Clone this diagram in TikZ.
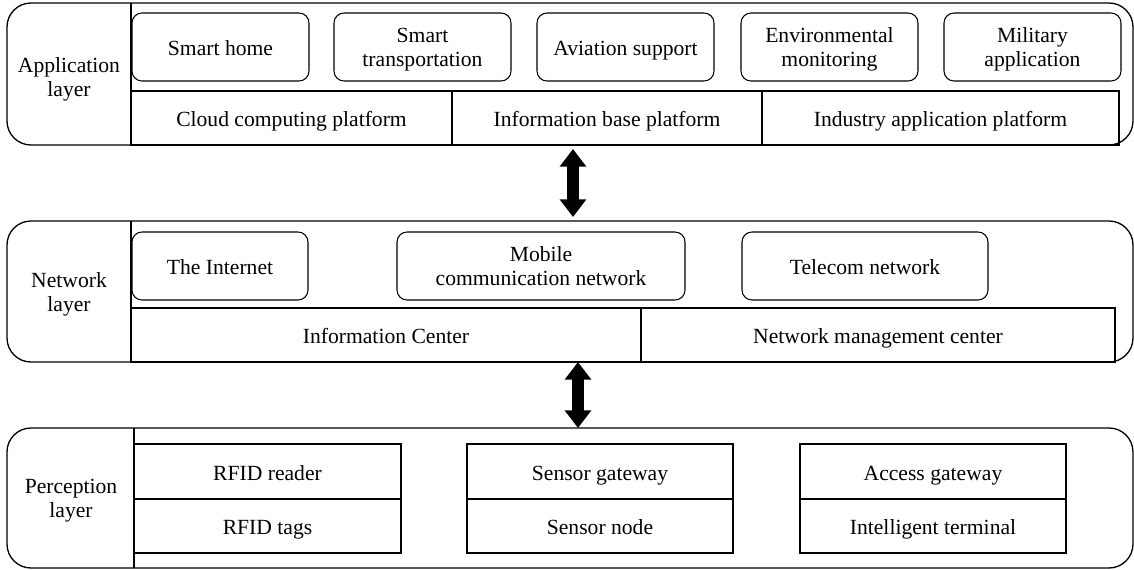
\documentclass[tikz,border=0pt]{standalone}
\usepackage{fontspec}
\setmainfont{Liberation Serif}
\usetikzlibrary{fit,arrows.meta}
\newlength\pxu
\setlength\pxu{0.02cm}
\tikzset{
  layerbox/.style={draw, line width=0.75pt, rounded corners=24\pxu, inner sep=0pt},
  itembox/.style={draw, line width=0.6pt, rounded corners=10\pxu, inner sep=0pt},
  cellbox/.style={draw, line width=0.6pt, inner sep=0pt},
  lbl/.style={align=center, inner sep=0pt, font=\fontsize{12.3}{14}\selectfont,
    execute at begin node=\strut, execute at end node=\strut, yshift=-2.2pt},
  divline/.style={line width=0.6pt},
  bigarrow/.style={line width=6.5pt, {Triangle[width=14.5pt,length=10pt]}-{Triangle[width=14.5pt,length=10pt]}}
}
\begin{document}
\begin{tikzpicture}[x=0.02cm, y=-0.02cm]
\useasboundingbox (0,0) rectangle (1134,569);

% ---------------- Application layer ----------------
\node[layerbox, fit={(7,3) (1133,145)}] (app) {};
\draw[divline] (131,3) -- (131,145);
\node[lbl] (applbl) at (69,77) {Application\\layer};
\node[itembox, fit={(132,13) (309,81)}] (smarthome) {};
\node[lbl] at (smarthome.center) {Smart home};
\node[itembox, fit={(334,13) (511,81)}] (smarttrans) {};
\node[lbl] at (smarttrans.center) {Smart\\transportation};
\node[itembox, fit={(537,13) (714,81)}] (aviation) {};
\node[lbl] at (aviation.center) {Aviation support};
\node[itembox, fit={(741,13) (918,81)}] (environ) {};
\node[lbl] at (environ.center) {Environmental\\monitoring};
\node[itembox, fit={(944,13) (1121,81)}] (military) {};
\node[lbl] at (military.center) {Military\\application};
\node[cellbox, fit={(131,91) (452,145)}] (cloud) {};
\node[lbl] at (cloud.center) {Cloud computing platform};
\node[cellbox, fit={(452,91) (762,145)}] (infobase) {};
\node[lbl] at (infobase.center) {Information base platform};
\node[cellbox, fit={(762,91) (1119,145)}] (industry) {};
\node[lbl] at (industry.center) {Industry application platform};

% ---------------- Network layer ----------------
\node[layerbox, fit={(7,221) (1133,362)}] (net) {};
\draw[divline] (131,221) -- (131,362);
\node[lbl] (netlbl) at (69,292) {Network\\layer};
\node[itembox, fit={(132,232) (308,300)}] (internet) {};
\node[lbl] at (internet.center) {The Internet};
\node[itembox, fit={(397,232) (685,300)}] (mobile) {};
\node[lbl] at (mobile.center) {Mobile\\communication network};
\node[itembox, fit={(742,232) (988,300)}] (telecom) {};
\node[lbl] at (telecom.center) {Telecom network};
\node[cellbox, fit={(131,308) (641,362)}] (infocenter) {};
\node[lbl] at (infocenter.center) {Information Center};
\node[cellbox, fit={(641,308) (1115,362)}] (netmgmt) {};
\node[lbl] at (netmgmt.center) {Network management center};

% ---------------- Perception layer ----------------
\node[layerbox, fit={(7,428) (1133,568)}] (perc) {};
\draw[divline] (134,428) -- (134,568);
\node[lbl] (perclbl) at (71,498) {Perception\\layer};
\node[cellbox, fit={(134,444) (401,499)}] (rfidreader) {};
\node[lbl] at (rfidreader.center) {RFID reader};
\node[cellbox, fit={(134,499) (401,553)}] (rfidtags) {};
\node[lbl] at (rfidtags.center) {RFID tags};
\node[cellbox, fit={(467,444) (733,499)}] (sensgw) {};
\node[lbl] at (sensgw.center) {Sensor gateway};
\node[cellbox, fit={(467,499) (733,553)}] (sensnode) {};
\node[lbl] at (sensnode.center) {Sensor node};
\node[cellbox, fit={(800,444) (1066,499)}] (accgw) {};
\node[lbl] at (accgw.center) {Access gateway};
\node[cellbox, fit={(800,499) (1066,553)}] (intterm) {};
\node[lbl] at (intterm.center) {Intelligent terminal};

% ---------------- Arrows ----------------
\coordinate (a1top) at (573,149);
\coordinate (a1bot) at (573,217);
\coordinate (a2top) at (578,362);
\coordinate (a2bot) at (578,428);
\draw[bigarrow] (a1top) -- (a1bot);
\draw[bigarrow] (a2top) -- (a2bot);
\end{tikzpicture}
\end{document}
